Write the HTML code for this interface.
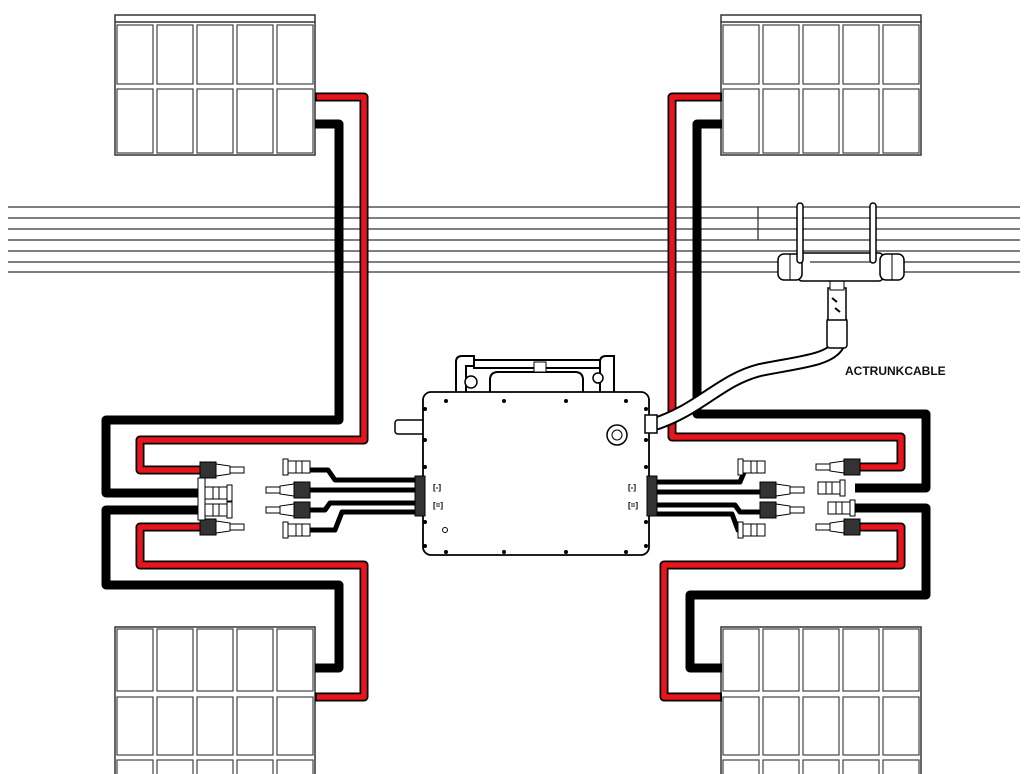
<!DOCTYPE html>
<html><head><meta charset="utf-8"><style>
html,body{margin:0;padding:0;background:#fff;width:1024px;height:774px;overflow:hidden}
svg{display:block}
</style></head><body>
<svg width="1024" height="774" viewBox="0 0 1024 774" xmlns="http://www.w3.org/2000/svg">
<defs>
<g id="panelTop">
  <rect x="0" y="0" width="200" height="140" fill="#fff" stroke="#333" stroke-width="1.5"/>
  <line x1="0" y1="7" x2="200" y2="7" stroke="#333" stroke-width="1.5"/>
  <g fill="none" stroke="#444" stroke-width="1.2">
    <rect x="2" y="10" width="36" height="59"/><rect x="42" y="10" width="36" height="59"/><rect x="82" y="10" width="36" height="59"/><rect x="122" y="10" width="36" height="59"/><rect x="162" y="10" width="36" height="59"/>
    <rect x="2" y="74" width="36" height="64"/><rect x="42" y="74" width="36" height="64"/><rect x="82" y="74" width="36" height="64"/><rect x="122" y="74" width="36" height="64"/><rect x="162" y="74" width="36" height="64"/>
  </g>
</g>
<g id="panelBot">
  <rect x="0" y="0" width="200" height="150" fill="#fff" stroke="#333" stroke-width="1.5"/>
  <g fill="none" stroke="#444" stroke-width="1.2">
    <rect x="2" y="2" width="36" height="62"/><rect x="42" y="2" width="36" height="62"/><rect x="82" y="2" width="36" height="62"/><rect x="122" y="2" width="36" height="62"/><rect x="162" y="2" width="36" height="62"/>
    <rect x="2" y="70" width="36" height="58"/><rect x="42" y="70" width="36" height="58"/><rect x="82" y="70" width="36" height="58"/><rect x="122" y="70" width="36" height="58"/><rect x="162" y="70" width="36" height="58"/>
    <rect x="2" y="133" width="36" height="20"/><rect x="42" y="133" width="36" height="20"/><rect x="82" y="133" width="36" height="20"/><rect x="122" y="133" width="36" height="20"/><rect x="162" y="133" width="36" height="20"/>
  </g>
</g>
<g id="connM">
  <rect x="0" y="-8" width="16" height="16" fill="#333" stroke="#000"/>
  <path d="M16,-6 L30,-4 L30,4 L16,6 Z" fill="#fff" stroke="#000"/>
  <rect x="30" y="-3" width="14" height="6" fill="#fff" stroke="#000"/>
</g>
<g id="connF">
  <rect x="0" y="-6" width="22" height="12" fill="#fff" stroke="#000"/>
  <line x1="8" y1="-6" x2="8" y2="6" stroke="#000"/>
  <line x1="14" y1="-6" x2="14" y2="6" stroke="#000"/>
  <rect x="22" y="-8" width="5" height="16" fill="#fff" stroke="#000"/>
</g>
</defs>

<g stroke="#333" stroke-width="1.3">
  <line x1="8" y1="207" x2="1020" y2="207"/>
  <line x1="8" y1="218" x2="1020" y2="218"/>
  <line x1="8" y1="229" x2="1020" y2="229"/>
  <line x1="8" y1="240" x2="1020" y2="240"/>
  <line x1="8" y1="251" x2="1020" y2="251"/>
  <line x1="8" y1="262" x2="1020" y2="262"/>
  <line x1="8" y1="272" x2="1020" y2="272"/>
  <line x1="758" y1="207" x2="758" y2="240"/>
</g>

<use href="#panelTop" x="115" y="15"/>
<use href="#panelTop" x="721" y="15"/>
<use href="#panelBot" x="115" y="627"/>
<use href="#panelBot" x="721" y="627"/>

<g fill="none" stroke-linejoin="round">
  <g stroke="#000" stroke-width="9">
    <path d="M315,124 H339 V420 H106 V493 H200"/>
    <path d="M200,510 H106 V585 H339 V668 H315"/>
    <path d="M722,124 H697 V414 H926 V488 H855"/>
    <path d="M855,508 H926 V595 H690 V668 H722"/>
  </g>
  <g stroke="#000" stroke-width="9">
    <path d="M315,97 H364 V440 H140 V470 H200"/>
    <path d="M200,527 H140 V565 H364 V697 H315"/>
    <path d="M722,97 H672 V437 H901 V467 H850"/>
    <path d="M860,527 H901 V565 H664 V697 H722"/>
  </g>
  <g stroke="#e8161c" stroke-width="5.5">
    <path d="M317,97 H364 V440 H140 V470 H200"/>
    <path d="M200,527 H140 V565 H364 V697 H317"/>
    <path d="M720,97 H672 V437 H901 V467 H850"/>
    <path d="M860,527 H901 V565 H664 V697 H720"/>
  </g>
  <g stroke="#000" stroke-width="5">
    <path d="M415,480 H335 L328,470 H310"/>
    <path d="M415,490 H310"/>
    <path d="M415,503 H330 L325,510 H310"/>
    <path d="M415,512 H342 L335,530 H310"/>
    <path d="M650,482 H740 L745,470 H760"/>
    <path d="M650,492 H760"/>
    <path d="M650,505 H735 L740,512 H760"/>
    <path d="M650,514 H732 L738,530 H760"/>
  </g>
</g>

<use href="#connM" x="200" y="470"/>
<use href="#connF" x="205" y="493"/>
<use href="#connF" x="205" y="510"/>
<use href="#connM" x="200" y="527"/>
<rect x="198" y="478" width="7" height="42" fill="#fff" stroke="#000"/>
<g transform="translate(310,0) scale(-1,1)">
  <use href="#connF" x="0" y="467"/>
  <use href="#connM" x="0" y="490"/>
  <use href="#connM" x="0" y="510"/>
  <use href="#connF" x="0" y="530"/>
</g>
<use href="#connF" x="760" y="467" transform="translate(1525,0) scale(-1,1)"/>
<use href="#connM" x="760" y="490"/>
<use href="#connM" x="760" y="510"/>
<use href="#connF" x="760" y="530" transform="translate(1525,0) scale(-1,1)"/>
<g transform="translate(860,0) scale(-1,1)">
  <use href="#connM" x="0" y="467"/>
  <use href="#connM" x="0" y="527"/>
</g>
<use href="#connF" x="818" y="488"/>
<use href="#connF" x="828" y="508"/>

<path d="M652,425 C700,410 720,380 760,370 C800,362 830,360 838,345" fill="none" stroke="#000" stroke-width="14"/>
<path d="M652,425 C700,410 720,380 760,370 C800,362 830,360 838,345" fill="none" stroke="#fff" stroke-width="10"/>
<rect x="827" y="318" width="20" height="30" rx="3" fill="#fff" stroke="#000" stroke-width="1.5"/>
<rect x="828" y="288" width="18" height="32" fill="#fff" stroke="#000" stroke-width="1.5"/>
<path d="M832,298 l5,4 M835,308 l5,4" stroke="#000" stroke-width="2"/>
<rect x="830" y="280" width="14" height="10" fill="#fff" stroke="#000"/>
<rect x="798" y="253" width="85" height="28" rx="4" fill="#fff" stroke="#000" stroke-width="1.5"/>
<rect x="778" y="254" width="24" height="26" rx="6" fill="#fff" stroke="#000" stroke-width="1.5"/>
<rect x="880" y="254" width="24" height="26" rx="6" fill="#fff" stroke="#000" stroke-width="1.5"/>
<line x1="790" y1="254" x2="790" y2="280" stroke="#000"/>
<line x1="892" y1="254" x2="892" y2="280" stroke="#000"/>
<g fill="none" stroke="#000" stroke-width="1.5">
  <rect x="797" y="203" width="6" height="60" rx="3" fill="#fff"/>
  <rect x="870" y="203" width="6" height="60" rx="3" fill="#fff"/>
</g>
<line x1="810" y1="262" x2="870" y2="262" stroke="#000"/>

<path d="M456,392 V362 Q456,356 462,356 H474 V366 H466 V392 M600,392 V362 Q600,356 606,356 H614 V392" fill="#fff" stroke="#000" stroke-width="2"/>
<rect x="474" y="360" width="126" height="8" fill="#fff" stroke="#000" stroke-width="2"/>
<path d="M490,392 V380 Q490,372 498,372 H575 Q583,372 583,380 V392" fill="none" stroke="#000" stroke-width="2"/>
<circle cx="471" cy="382" r="6" fill="#fff" stroke="#000" stroke-width="1.5"/>
<circle cx="598" cy="378" r="5" fill="#fff" stroke="#000" stroke-width="1.5"/>
<rect x="534" y="362" width="12" height="10" fill="#fff" stroke="#000"/>
<rect x="395" y="420" width="30" height="14" rx="3" fill="#fff" stroke="#000" stroke-width="1.5"/>
<rect x="423" y="392" width="226" height="163" rx="8" fill="#fff" stroke="#000" stroke-width="1.8"/>
<g fill="#000">
  <circle cx="446" cy="401" r="2"/><circle cx="504" cy="401" r="2"/><circle cx="566" cy="401" r="2"/><circle cx="626" cy="401" r="2"/>
  <circle cx="446" cy="552" r="2"/><circle cx="504" cy="552" r="2"/><circle cx="566" cy="552" r="2"/><circle cx="626" cy="552" r="2"/>
  <circle cx="425" cy="409" r="2"/><circle cx="425" cy="440" r="2"/><circle cx="425" cy="467" r="2"/><circle cx="425" cy="522" r="2"/><circle cx="425" cy="546" r="2"/>
  <circle cx="646" cy="409" r="2"/><circle cx="646" cy="440" r="2"/><circle cx="646" cy="467" r="2"/><circle cx="646" cy="522" r="2"/><circle cx="646" cy="546" r="2"/>
</g>
<circle cx="617" cy="435" r="10" fill="#fff" stroke="#000" stroke-width="1.5"/>
<circle cx="617" cy="435" r="5" fill="#fff" stroke="#000"/>
<circle cx="445" cy="530" r="2.5" fill="#fff" stroke="#000"/>
<rect x="415" y="476" width="10" height="40" fill="#333" stroke="#000"/>
<rect x="647" y="476" width="10" height="40" fill="#333" stroke="#000"/>
<rect x="645" y="415" width="12" height="18" fill="#fff" stroke="#000" stroke-width="1.5"/>
<text x="433" y="490" font-family="Liberation Sans, sans-serif" font-size="8" font-weight="bold">[-]</text>
<text x="433" y="508" font-family="Liberation Sans, sans-serif" font-size="8" font-weight="bold">[=]</text>
<text x="628" y="490" font-family="Liberation Sans, sans-serif" font-size="8" font-weight="bold">[-]</text>
<text x="628" y="508" font-family="Liberation Sans, sans-serif" font-size="8" font-weight="bold">[=]</text>

<text x="845" y="375" font-family="Liberation Sans, sans-serif" font-size="12" font-weight="bold" fill="#111">ACTRUNKCABLE</text>
</svg>
</body></html>
